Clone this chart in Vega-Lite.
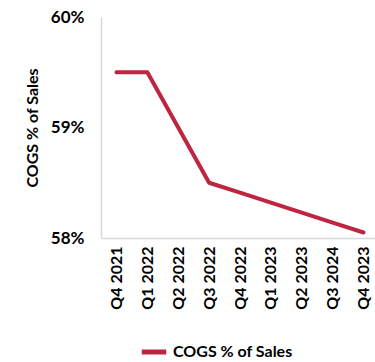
{
  "$schema": "https://vega.github.io/schema/vega-lite/v6.json",
  "width": 278,
  "height": 221,
  "autosize": {"type": "pad"},
  "padding": {"left": 24, "right": 0, "top": 8, "bottom": 0},
  "background": "white",
  "config": {
    "view": {"stroke": null},
    "font": "Lato",
    "axis": {"labelFont": "Lato", "titleFont": "Lato", "labelFontWeight": "bold", "titleFontWeight": "bold", "labelColor": "#000", "titleColor": "#000"}
  },
  "data": {
    "values": [
      {"quarter": "Q4 2021", "value": 59.5, "series": "COGS % of Sales"},
      {"quarter": "Q1 2022", "value": 59.5, "series": "COGS % of Sales"},
      {"quarter": "Q2 2022", "value": 59.0, "series": "COGS % of Sales"},
      {"quarter": "Q3 2022", "value": 58.5, "series": "COGS % of Sales"},
      {"quarter": "Q4 2022", "value": 58.41, "series": "COGS % of Sales"},
      {"quarter": "Q1 2023", "value": 58.32, "series": "COGS % of Sales"},
      {"quarter": "Q2 2023", "value": 58.23, "series": "COGS % of Sales"},
      {"quarter": "Q3 2024", "value": 58.14, "series": "COGS % of Sales"},
      {"quarter": "Q4 2023", "value": 58.05, "series": "COGS % of Sales"}
    ]
  },
  "mark": {"type": "line", "strokeWidth": 4, "strokeCap": "round", "strokeJoin": "round"},
  "encoding": {
    "x": {
      "field": "quarter",
      "type": "ordinal",
      "sort": null,
      "scale": {"type": "point", "padding": 0.5},
      "axis": {"title": null, "labelAngle": -90, "labelFontSize": 16, "ticks": false, "domainColor": "#d9d9d9", "domainWidth": 1.5, "labelPadding": 8}
    },
    "y": {
      "field": "value",
      "type": "quantitative",
      "scale": {"domain": [58, 60], "nice": false},
      "axis": {"title": "COGS % of Sales", "values": [58, 59, 60], "labelExpr": "datum.value + '%'", "labelFontSize": 17, "titleFontSize": 16, "grid": false, "ticks": false, "domainColor": "#d9d9d9", "domainWidth": 1.5, "labelPadding": 17, "titlePadding": 10}
    },
    "color": {
      "field": "series",
      "type": "nominal",
      "scale": {"range": ["#BE2541"]},
      "legend": {"orient": "none", "legendX": 38, "legendY": 320, "direction": "horizontal", "title": null, "symbolType": "stroke", "symbolStrokeWidth": 5, "symbolSize": 600, "labelFontSize": 16, "labelFontWeight": "bold", "labelFont": "Lato", "labelColor": "#000"}
    }
  }
}
